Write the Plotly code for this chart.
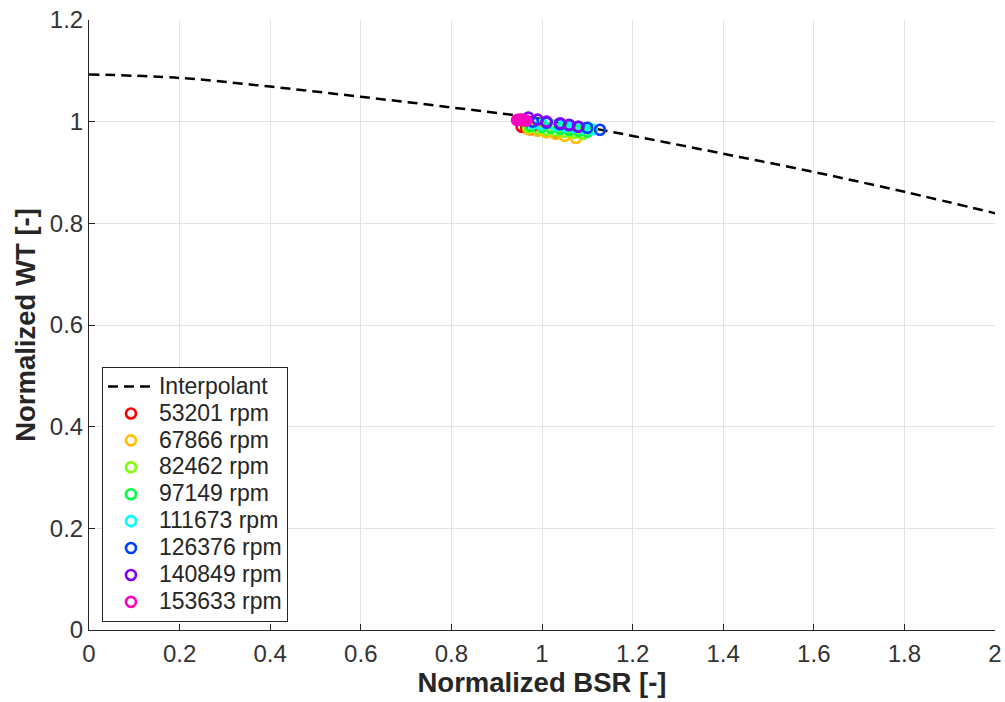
import plotly.graph_objects as go

# Interpolant curve
curve_x = [0.0, 0.2, 0.4, 0.6, 0.8, 1.0, 1.2, 1.4, 1.6, 1.8, 2.0]
curve_y = [1.093, 1.086, 1.069, 1.049, 1.028, 1.005, 0.972, 0.937, 0.901, 0.862, 0.820]

series_names = ["53201 rpm", "67866 rpm", "82462 rpm", "97149 rpm",
                "111673 rpm", "126376 rpm", "140849 rpm", "153633 rpm"]
series_colors = ["#ff0000", "#ffbf00", "#80ff00", "#00ff40",
                 "#00ffff", "#0040ff", "#8000ff", "#ff00bf"]
series_x = [
    [0.955, 0.965, 0.975, 0.99, 1.01, 1.03],
    [0.97, 0.99, 1.01, 1.03, 1.05, 1.075],
    [0.97, 0.99, 1.01, 1.03, 1.05, 1.07, 1.09],
    [0.975, 1.0, 1.02, 1.04, 1.06, 1.08, 1.10],
    [0.98, 1.0, 1.03, 1.05, 1.07, 1.09, 1.11],
    [0.98, 1.01, 1.04, 1.06, 1.08, 1.10, 1.128],
    [0.97, 0.99, 1.01, 1.04, 1.06, 1.08],
    [0.945, 0.95, 0.955, 0.96, 0.965],
]
series_y = [
    [0.99, 0.988, 0.985, 0.984, 0.981, 0.978],
    [0.985, 0.982, 0.979, 0.976, 0.972, 0.968],
    [0.99, 0.987, 0.984, 0.982, 0.98, 0.978, 0.976],
    [0.992, 0.99, 0.988, 0.986, 0.984, 0.982, 0.98],
    [0.997, 0.995, 0.993, 0.991, 0.989, 0.987, 0.985],
    [1.0, 0.998, 0.995, 0.993, 0.99, 0.988, 0.984],
    [1.008, 1.004, 1.0, 0.997, 0.994, 0.99],
    [1.003, 1.004, 1.004, 1.003, 1.002],
]

x_ticks = [0, 0.2, 0.4, 0.6, 0.8, 1, 1.2, 1.4, 1.6, 1.8, 2]
x_ticklabels = ["0", "0.2", "0.4", "0.6", "0.8", "1", "1.2", "1.4", "1.6", "1.8", "2"]
y_ticks = [0, 0.2, 0.4, 0.6, 0.8, 1, 1.2]
y_ticklabels = ["0", "0.2", "0.4", "0.6", "0.8", "1", "1.2"]

FONT = "Liberation Sans, Arial, sans-serif"

def leg(t):
    return "<span style='font-size:23px'>" + t + "</span>"

fig = go.Figure()
fig.add_trace(go.Scatter(x=curve_x, y=curve_y, mode="lines", name=leg("Interpolant"),
                         line=dict(color="black", width=2.5, dash="10px,6px", shape="spline")))
for name, col, xs, ys in zip(series_names, series_colors, series_x, series_y):
    fig.add_trace(go.Scatter(x=xs, y=ys, mode="markers", name=leg(name),
                             marker=dict(symbol="circle-open", size=10, color=col,
                                         line=dict(width=2.6, color=col))))

axis_common = dict(showgrid=True, gridcolor="#e3e3e3", gridwidth=1,
                   showline=True, linecolor="#262626", linewidth=1,
                   ticks="inside", ticklen=6, tickcolor="#262626",
                   tickfont=dict(family=FONT, size=24, color="#333333"),
                   ticklabeloverflow="allow",
                   zeroline=False, mirror=False, automargin=False)

fig.update_layout(
    width=1005, height=702,
    margin=dict(l=89, r=10, t=20, b=72),
    paper_bgcolor="white", plot_bgcolor="white",
    xaxis=dict(range=[0, 2], tickvals=x_ticks, ticktext=x_ticklabels,
               ticklabelstandoff=2,
               title=dict(text="<b>Normalized BSR [-]</b>", standoff=4,
                          font=dict(family=FONT, size=27.5, color="#262626")),
               **axis_common),
    yaxis=dict(range=[0, 1.2], tickvals=y_ticks, ticktext=y_ticklabels,
               ticklabelstandoff=0,
               title=dict(text="<b>Normalized WT [-]</b>", standoff=6,
                          font=dict(family=FONT, size=27.5, color="#262626")),
               **axis_common),
    legend=dict(x=0.0143, y=0.431, xanchor="left", yanchor="top",
                bgcolor="white", bordercolor="#262626", borderwidth=1,
                font=dict(family=FONT, size=18.4, color="#262626"),
                tracegroupgap=0, itemwidth=46),
    showlegend=True,
)

# remove the default 8px page margin so the 1005x702 figure fills the window
fig.write_html("out.html", config={"displayModeBar": False},
               post_script="document.body.style.margin='0px';")
